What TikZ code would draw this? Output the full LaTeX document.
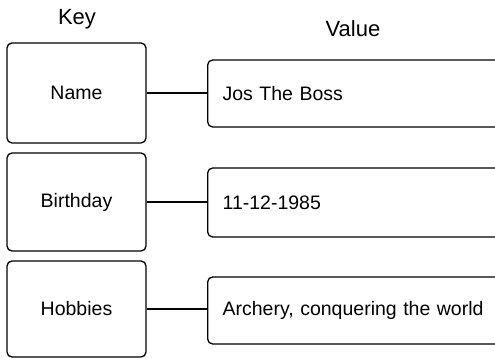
\documentclass[tikz,border=0pt]{standalone}
\usepackage{fontspec}
\setmainfont{Liberation Sans}
\begin{document}
\begin{tikzpicture}[x=1pt,y=1pt,
  box/.style={draw=black, line width=1.3pt, rounded corners=5pt, inner sep=0pt},
  keybox/.style={box, minimum width=139pt, font=\fontsize{19.5}{22}\selectfont},
  valbox/.style={box, anchor=west, minimum width=300pt, text width=270pt, align=left, inner xsep=15pt, font=\fontsize{19.5}{22}\selectfont},
  title/.style={font=\fontsize{22}{24}\selectfont},
  conn/.style={draw=black, line width=1.3pt}]
\useasboundingbox (0,0) rectangle (495,358);
\clip (0,0) rectangle (495,358);
\node[title] (tk) at (77,339) {Key};
\node[title] (tv) at (353,329) {Value};
\node[keybox, minimum height=100pt] (k1) at (76.5,265) {Name};
\node[keybox, minimum height=98pt] (k2) at (76.5,156) {Birthday};
\node[keybox, minimum height=96pt] (k3) at (76.5,49) {Hobbies};
\node[valbox, minimum height=67pt] (v1) at (207,264.5) {Jos The Boss};
\node[valbox, minimum height=69pt] (v2) at (207,155.5) {11-12-1985};
\node[valbox, minimum height=67pt] (v3) at (207,47.5) {Archery, conquering the world};
\draw[conn] (k1.east) -- (k1.east -| v1.west);
\draw[conn] (k2.east) -- (k2.east -| v2.west);
\draw[conn] (k3.east) -- (k3.east -| v3.west);
\end{tikzpicture}
\end{document}
